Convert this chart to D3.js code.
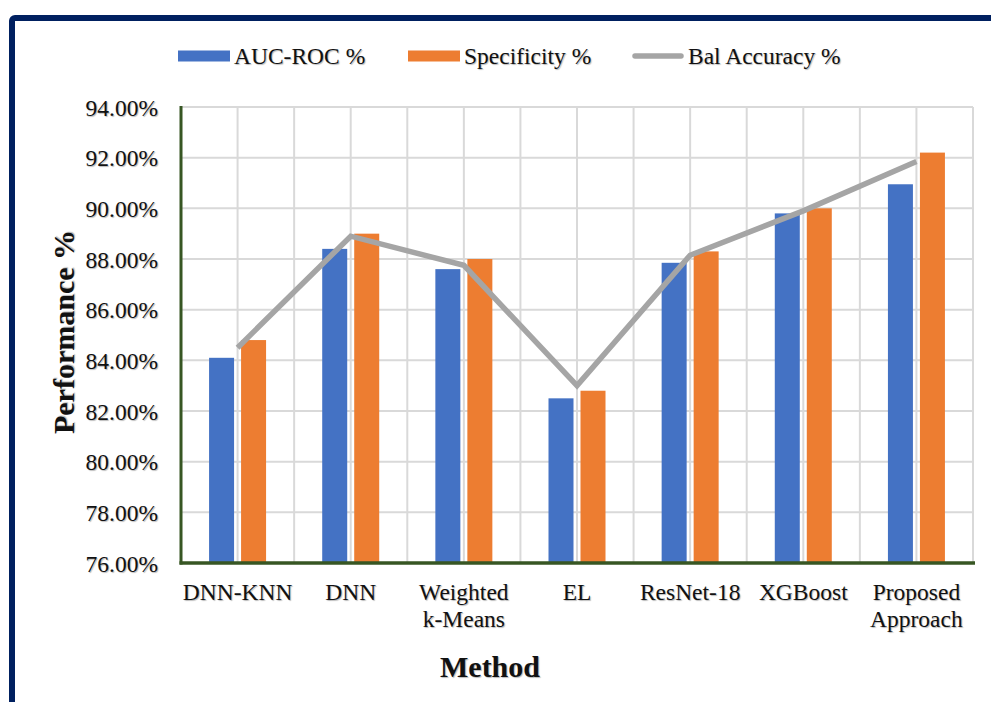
<!DOCTYPE html>
<html>
<head>
<meta charset="utf-8">
<script src="https://cdn.jsdelivr.net/npm/d3@7/dist/d3.min.js"></script>
<style>
  html, body { margin: 0; padding: 0; background: #fff; }
  svg text { font-family: "Liberation Serif", "Times New Roman", serif; fill: #111; text-shadow: 1px 1px 1px rgba(0,0,0,0.28); }
</style>
</head>
<body>
<svg id="chart" width="991" height="702"></svg>
<script>
// Methods compared and their scores (%)
const categories = [["DNN-KNN"], ["DNN"], ["Weighted", "k-Means"], ["EL"], ["ResNet-18"], ["XGBoost"], ["Proposed", "Approach"]];
const aucRoc      = [84.1, 88.4, 87.6, 82.5, 87.85, 89.8, 90.95];
const specificity = [84.8, 89.0, 88.0, 82.8, 88.3, 90.0, 92.2];
const balAccuracy = [84.5, 88.9, 87.75, 83.0, 88.15, 89.9, 91.85];
const yTicks = [76, 78, 80, 82, 84, 86, 88, 90, 92, 94];
const seriesNames = ["AUC-ROC %", "Specificity %", "Bal Accuracy %"];

const svg = d3.select("#chart");
const margin = { left: 181, right: 973, top: 107, bottom: 563 };
const colors = { auc: "#4472c4", spec: "#ed7d31", bal: "#a5a5a5", axis: "#375623", grid: "#d9d9d9", frame: "#002060" };
const fontSize = 23.5;

// Outer frame (only top/left edges fall inside the view)
svg.append("rect")
  .attr("x", 12).attr("y", 18).attr("width", 1200).attr("height", 1000)
  .attr("rx", 3).attr("fill", "none").attr("stroke", colors.frame).attr("stroke-width", 6);

const idx = d3.range(categories.length);
const x = d3.scaleBand().domain(idx).range([margin.left, margin.right]).paddingInner(0).paddingOuter(0);
const y = d3.scaleLinear().domain([76, 94]).range([margin.bottom, margin.top]);

// Gridlines: horizontal at each tick, vertical at category edges and centres
const grid = svg.append("g");
grid.selectAll("line.h").data(yTicks).join("line")
  .attr("x1", margin.left).attr("x2", margin.right)
  .attr("y1", d => y(d)).attr("y2", d => y(d))
  .attr("stroke", colors.grid).attr("stroke-width", 2);
const vLines = [];
idx.forEach(i => { vLines.push(x(i) + x.bandwidth() / 2); vLines.push(x(i) + x.bandwidth()); });
grid.selectAll("line.v").data(vLines).join("line")
  .attr("x1", d => d).attr("x2", d => d)
  .attr("y1", margin.top).attr("y2", margin.bottom)
  .attr("stroke", colors.grid).attr("stroke-width", 2);

// Bars
const barW = 25, gap = 7;
const bars = svg.append("g");
bars.selectAll("rect.auc").data(aucRoc).join("rect")
  .attr("x", (d, i) => x(i) + x.bandwidth() / 2 - gap / 2 - barW)
  .attr("y", d => y(d)).attr("width", barW).attr("height", d => y(76) - y(d))
  .attr("fill", colors.auc);
bars.selectAll("rect.spec").data(specificity).join("rect")
  .attr("x", (d, i) => x(i) + x.bandwidth() / 2 + gap / 2)
  .attr("y", d => y(d)).attr("width", barW).attr("height", d => y(76) - y(d))
  .attr("fill", colors.spec);

// Balanced accuracy line
const line = d3.line().x((d, i) => x(i) + x.bandwidth() / 2).y(d => y(d));
svg.append("path").datum(balAccuracy)
  .attr("d", line).attr("fill", "none")
  .attr("stroke", colors.bal).attr("stroke-width", 5.5).attr("stroke-linejoin", "miter");

// Y axis labels
const yAxis = d3.axisLeft(y).tickValues(yTicks).tickSize(0).tickPadding(23)
  .tickFormat(d => d.toFixed(2) + "%");
const gy = svg.append("g").attr("transform", `translate(${margin.left},0)`).call(yAxis);
gy.select(".domain").remove();
gy.selectAll("text").attr("font-size", fontSize).style("font-family", "Liberation Serif").attr("dy", "0.35em");

// Axis lines
svg.append("line").attr("x1", margin.left).attr("x2", margin.left)
  .attr("y1", margin.top - 1).attr("y2", margin.bottom + 1.5)
  .attr("stroke", colors.axis).attr("stroke-width", 3);
svg.append("line").attr("x1", margin.left - 1.5).attr("x2", margin.right + 2)
  .attr("y1", margin.bottom).attr("y2", margin.bottom)
  .attr("stroke", colors.axis).attr("stroke-width", 3.5);

// Category labels
const xl = svg.append("g");
categories.forEach((lines, i) => {
  const t = xl.append("text")
    .attr("x", x(i) + x.bandwidth() / 2).attr("y", 600)
    .attr("text-anchor", "middle").attr("font-size", fontSize);
  lines.forEach((s, j) => t.append("tspan")
    .attr("x", x(i) + x.bandwidth() / 2).attr("dy", j === 0 ? 0 : 27).text(s));
});

// Axis titles
svg.append("text").attr("x", 490).attr("y", 677)
  .attr("text-anchor", "middle").attr("font-size", 30).attr("font-weight", "bold").text("Method");
svg.append("text").attr("transform", "translate(74,332) rotate(-90)")
  .attr("text-anchor", "middle").attr("font-size", 30).attr("font-weight", "bold").text("Performance %");

// Legend
const legend = svg.append("g");
const legendItems = [
  { name: seriesNames[0], x: 178, type: "rect", color: colors.auc },
  { name: seriesNames[1], x: 408, type: "rect", color: colors.spec },
  { name: seriesNames[2], x: 632, type: "line", color: colors.bal }
];
legendItems.forEach(it => {
  if (it.type === "rect") {
    legend.append("rect").attr("x", it.x).attr("y", 50.5).attr("width", 52).attr("height", 11).attr("fill", it.color);
  } else {
    legend.append("line").attr("x1", it.x + 3).attr("x2", it.x + 49).attr("y1", 56).attr("y2", 56)
      .attr("stroke", it.color).attr("stroke-width", 5.5).attr("stroke-linecap", "round");
  }
  legend.append("text").attr("x", it.x + 56).attr("y", 56).attr("dy", "0.35em")
    .attr("font-size", fontSize).text(it.name);
});
</script>
</body>
</html>
